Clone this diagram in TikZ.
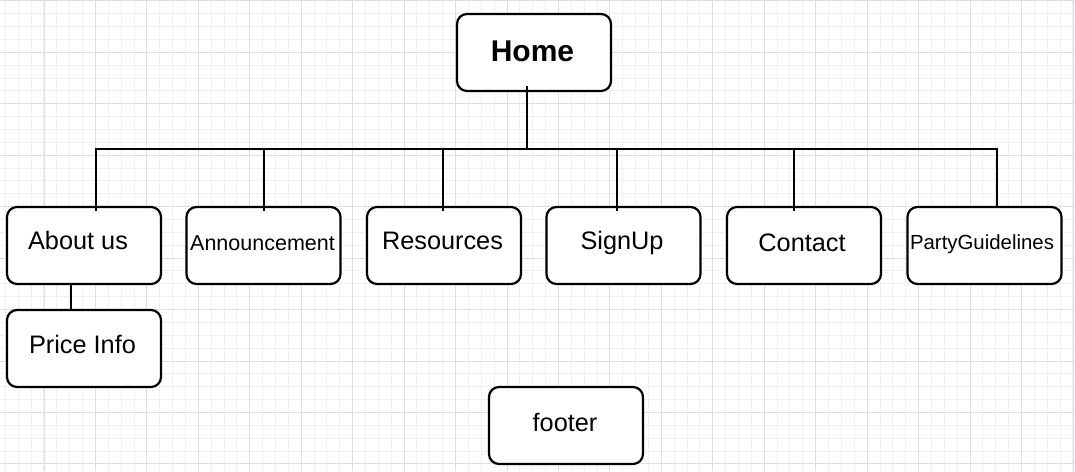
\documentclass[tikz,border=0pt]{standalone}
\usepackage{fontspec}
\setmainfont{Liberation Sans}
\begin{document}
\begin{tikzpicture}[x=1pt,y=-1pt,
  minorgrid/.style={draw=black!6,line width=1pt},
  majorgrid/.style={draw=black!13,line width=1pt},
  box/.style={draw=black,line width=2.2pt,fill=white,rounded corners=10pt,
    minimum width=154pt,minimum height=77pt,inner sep=0pt},
  txt/.style={anchor=base,inner sep=0pt,font=\fontsize{25.3}{30}\selectfont},
  smalltxt/.style={txt,font=\fontsize{21.5}{26}\selectfont},
  conn/.style={draw=black,line width=2.4pt}]
\useasboundingbox (0,0) rectangle (1075,471);
\fill[white] (0,0) rectangle (1075,471);
% grid
\foreach \i in {0,...,83} \draw[minorgrid] ({5.4+12.862*\i},0) -- ({5.4+12.862*\i},471);
\foreach \i in {0,...,36} \draw[minorgrid] (0,{0.86+12.862*\i}) -- (1075,{0.86+12.862*\i});
\foreach \i in {0,...,20} \draw[majorgrid] ({44+51.45*\i},0) -- ({44+51.45*\i},471);
\foreach \i in {0,...,9} \draw[majorgrid] (0,{0.86+51.45*\i}) -- (1075,{0.86+51.45*\i});
% boxes
\node[box] (home) at (534,52.5) {};
\node[box] (about) at (84,245.5) {};
\node[box] (announce) at (263.5,245.5) {};
\node[box] (resources) at (444,245.5) {};
\node[box] (signup) at (623.5,245.5) {};
\node[box] (contact) at (804,245.5) {};
\node[box] (party) at (984.5,245.5) {};
\node[box] (price) at (84,348.5) {};
\node[box] (footer) at (566,425.5) {};
% texts
\node[txt,font=\fontsize{30}{36}\selectfont\bfseries] (homeT) at (532.5,61.7) {Home};
\node[txt] (aboutT) at (78,249) {About us};
\node[smalltxt] (announceT) at (262.5,250) {Announcement};
\node[txt] (resourcesT) at (442.5,249) {Resources};
\node[txt] (signupT) at (622,249) {SignUp};
\node[txt] (contactT) at (802,251) {Contact};
\node[smalltxt,font=\fontsize{20.4}{25}\selectfont] (partyT) at (982,249) {PartyGuidelines};
\node[txt] (priceT) at (82.5,353) {Price Info};
\node[txt] (footerT) at (565,431.7) {footer};
% bus coordinates
\coordinate (j0) at (527,149);
\coordinate (b1) at (96,149);
\coordinate (b2) at (264,149);
\coordinate (b3) at (443,149);
\coordinate (b4) at (617,149);
\coordinate (b5) at (794,149);
\coordinate (b6) at (997,149);
\coordinate (pa) at (71,0);
% connectors
\draw[conn] ([xshift=-7pt,yshift=6pt]home.south) -- (j0);
\draw[conn] ([yshift=-5pt]about.north -| b1) -- (b1) -- (b6) -- (party.north -| b6);
\draw[conn] (b2) -- ([yshift=-5pt]announce.north -| b2);
\draw[conn] (b3) -- ([yshift=-5pt]resources.north -| b3);
\draw[conn] (b4) -- ([yshift=-5pt]signup.north -| b4);
\draw[conn] (b5) -- ([yshift=-5pt]contact.north -| b5);
\draw[conn] (about.south -| pa) -- (price.north -| pa);
\end{tikzpicture}
\end{document}
